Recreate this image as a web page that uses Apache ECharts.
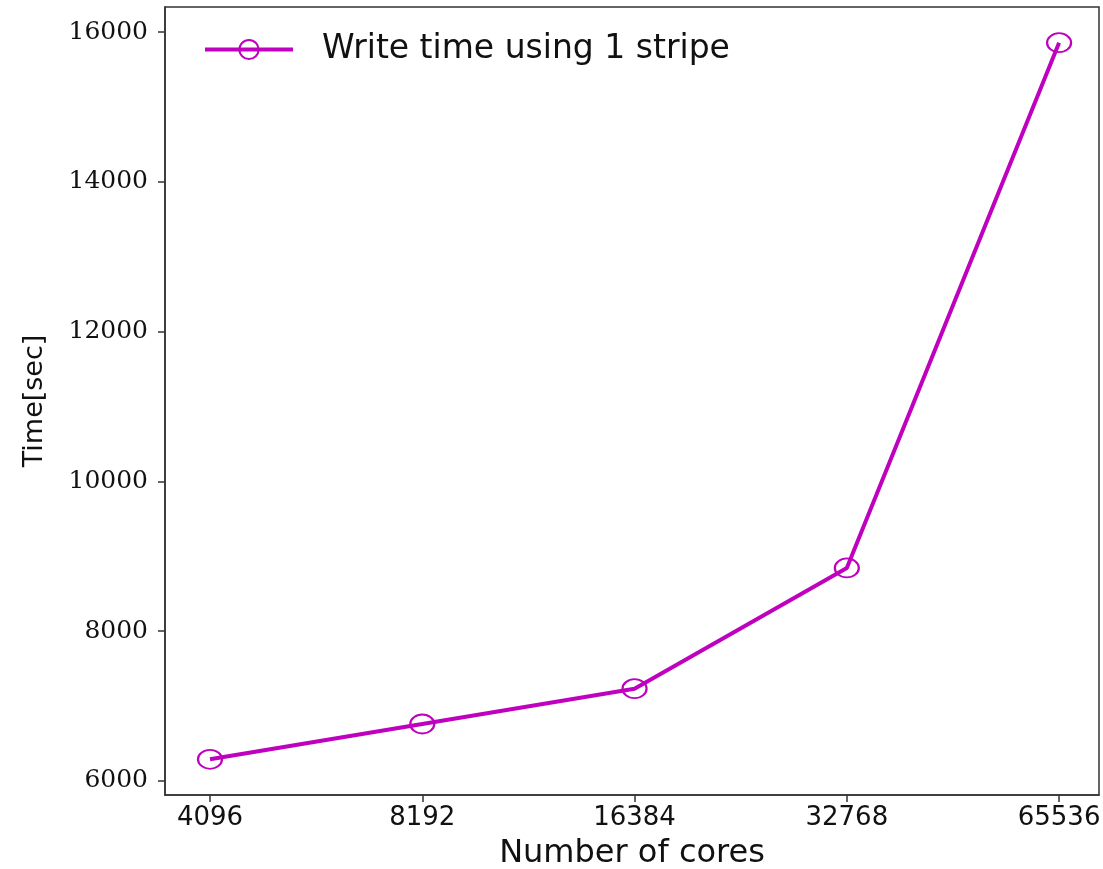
<!DOCTYPE html>
<html>
<head>
<meta charset="utf-8">
<script src="https://cdn.jsdelivr.net/npm/echarts@6/dist/echarts.min.js"></script>
<style>html,body{margin:0;padding:0;background:#fff;}#c{width:1103px;height:869px;}</style>
</head>
<body>
<div id="c"></div>
<script>
const categories = ['4096', '8192', '16384', '32768', '65536'];
const writeTime = [6290, 6761, 7232, 8844, 15857];
const yTicks = [6000, 8000, 10000, 12000, 14000, 16000];
const seriesName = 'Write time using 1 stripe';

const chart = echarts.init(document.getElementById('c'));
const color = '#bf00bf';
chart.setOption({
  animation: false,
  backgroundColor: '#fff',
  grid: { left: 165, right: 4, top: 7, bottom: 74, show: true, borderColor: '#333', borderWidth: 1.5, backgroundColor: 'transparent', containLabel: false, outerBoundsMode: 'none' },
  legend: {
    left: 198, top: 28, itemWidth: 88, itemHeight: 24,
    data: [{ name: seriesName }],
    lineStyle: { width: 4 },
    itemStyle: { borderWidth: 2 },
    textStyle: { fontFamily: 'DejaVu Sans', fontSize: 33, color: '#111', padding: [0, 0, 0, 24] }
  },
  xAxis: {
    type: 'value', min: -0.212, max: 4.188,
    name: 'Number of cores', nameLocation: 'middle', nameGap: 43,
    nameTextStyle: { fontFamily: 'DejaVu Sans', fontSize: 32, color: '#111' },
    axisLine: { show: true, onZero: false, lineStyle: { color: '#333', width: 1.5 } },
    axisTick: { show: true, length: 7, inside: false, lineStyle: { color: '#333', width: 1.5 }, customValues: [0, 1, 2, 3, 4] },
    axisLabel: { customValues: [0, 1, 2, 3, 4], formatter: v => categories[Math.round(v)], fontFamily: 'DejaVu Sans', fontSize: 26, color: '#111', margin: 10 },
    splitLine: { show: false }
  },
  yAxis: {
    type: 'value', min: 5813, max: 16334,
    name: 'Time[sec]', nameLocation: 'middle', nameGap: 117, nameRotate: 90,
    nameTextStyle: { fontFamily: 'DejaVu Sans', fontSize: 27, color: '#111' },
    axisLine: { show: true, onZero: false, lineStyle: { color: '#333', width: 1.5 } },
    axisTick: { show: true, length: 7, lineStyle: { color: '#333', width: 1.5 }, customValues: yTicks },
    axisLabel: { customValues: yTicks, formatter: v => String(v), fontFamily: 'DejaVu Serif', fontSize: 25, color: '#111', margin: 17 },
    splitLine: { show: false }
  },
  series: [{
    name: seriesName, type: 'line',
    data: writeTime.map((v, i) => [i, v]),
    symbol: 'circle', symbolSize: [24, 19],
    lineStyle: { color: color, width: 4 },
    itemStyle: { color: 'rgba(0,0,0,0)', borderColor: color, borderWidth: 2 },
    z: 3
  }]
});
</script>
</body>
</html>
